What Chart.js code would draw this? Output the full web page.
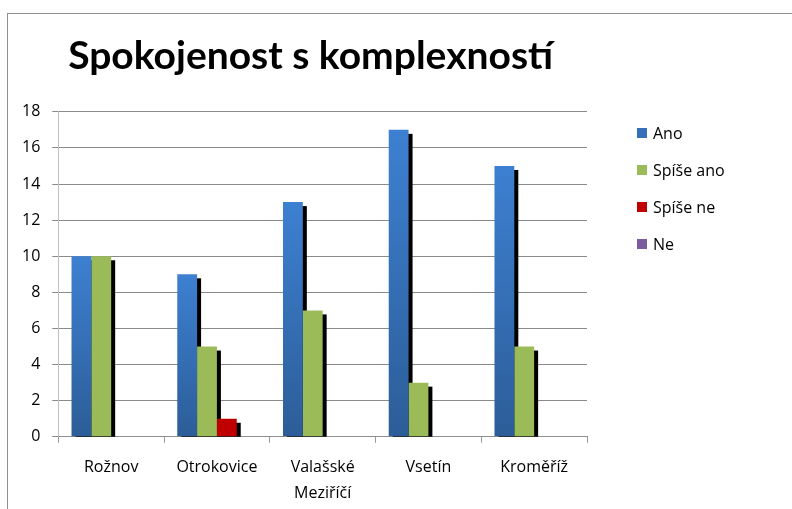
<!DOCTYPE html>
<html lang="cs">
<head>
<meta charset="UTF-8">
<title>Spokojenost s komplexností</title>
<script src="https://cdn.jsdelivr.net/npm/chart.js@4.4.0/dist/chart.umd.min.js"></script>
<style>
    body { margin: 0; background: #fff; }
    .wrap { position: relative; width: 792px; height: 509px; }
    .frame {
        position: absolute; left: 7px; top: 13px; width: 800px; height: 520px;
        border-left: 1px solid #8f8f8f; border-top: 1px solid #8f8f8f;
        pointer-events: none;
    }
</style>
</head>
<body>
<div class="wrap">
    <canvas id="chart" width="792" height="509"></canvas>
    <div class="frame"></div>
</div>
<script>
    // data
    const cities = ['Rožnov', 'Otrokovice', ['Valašské', 'Meziříčí'], 'Vsetín', 'Kroměříž'];
    const ano = [10, 9, 13, 17, 15];
    const spiseAno = [10, 5, 7, 3, 5];
    const spiseNe = [0, 1, 0, 0, 0];
    const ne = [0, 0, 0, 0, 0];
    const yTicks = { min: 0, max: 18, step: 2 };

    const TITLE_FONT = 'Lato, "Open Sans", sans-serif';
    const FONT = '"Open Sans", Lato, sans-serif';

    // blue bars fade from light at the top to darker at the bottom
    function blueGradient(ctx) {
        const chart = ctx.chart;
        if (!chart.chartArea || ctx.raw === undefined) return '#3a78c4';
        const y = chart.scales.y;
        const top = y.getPixelForValue(ctx.raw);
        const bottom = y.getPixelForValue(0);
        if (bottom - top < 1) return '#3a78c4';
        const g = chart.ctx.createLinearGradient(0, top, 0, bottom);
        g.addColorStop(0, '#3d80d1');
        g.addColorStop(1, '#2c5d98');
        return g;
    }

    // hard black drop shadows, all drawn before the bars so every bar sits on top
    const barShadow = {
        id: 'barShadow',
        beforeDatasetsDraw(chart) {
            const c = chart.ctx;
            const a = chart.chartArea;
            c.save();
            c.beginPath();
            c.rect(a.left, a.top, a.right - a.left, a.bottom - a.top);
            c.clip();
            c.fillStyle = '#000';
            chart.getSortedVisibleDatasetMetas().forEach(function (meta) {
                meta.data.forEach(function (bar) {
                    const p = bar.getProps(['x', 'y', 'base', 'width'], true);
                    const h = Math.abs(p.base - p.y);
                    if (h > 0) c.fillRect(p.x - p.width / 2 + 4, Math.min(p.y, p.base) + 4, p.width, h);
                });
            });
            c.restore();
        }
    };

    // the title in the original sits a little left of the plot centre
    const titleNudge = {
        id: 'titleNudge',
        afterLayout(chart) {
            if (chart.titleBlock) {
                chart.titleBlock.left -= 12;
                chart.titleBlock.right -= 12;
            }
        }
    };

    // legend on the right, drawn by hand so it sits where the original has it
    const sideLegend = {
        id: 'sideLegend',
        afterDraw(chart) {
            const c = chart.ctx;
            const x = 637, y0 = 133, gap = 37;
            c.save();
            c.font = '16px ' + FONT;
            c.textBaseline = 'middle';
            chart.data.datasets.forEach(function (ds, i) {
                const y = y0 + i * gap;
                c.fillStyle = ds.legendColor;
                c.fillRect(x, y - 5, 10, 10);
                c.fillStyle = '#000';
                c.fillText(ds.label, x + 16, y + 1);
            });
            c.restore();
        }
    };

    new Chart(document.getElementById('chart'), {
        type: 'bar',
        data: {
            labels: cities,
            datasets: [
                { label: 'Ano', data: ano, backgroundColor: blueGradient, legendColor: '#3670b8' },
                { label: 'Spíše ano', data: spiseAno, backgroundColor: '#9bbb59', legendColor: '#9bbb59' },
                { label: 'Spíše ne', data: spiseNe, backgroundColor: '#c00000', legendColor: '#c00000' },
                { label: 'Ne', data: ne, backgroundColor: '#8064a2', legendColor: '#7a5c9e' }
            ]
        },
        options: {
            responsive: false,
            animation: false,
            layout: { padding: { left: 10, right: 205, top: 33, bottom: -9 } },
            datasets: {
                bar: { categoryPercentage: 0.75, barPercentage: 1 }
            },
            plugins: {
                legend: { display: false },
                tooltip: { enabled: false },
                title: {
                    display: true,
                    text: 'Spokojenost s komplexností',
                    fullSize: false,
                    color: '#000',
                    font: { family: TITLE_FONT, size: 39, weight: 'bold' },
                    padding: { top: 0, bottom: 32 }
                }
            },
            scales: {
                x: {
                    grid: { display: true, drawOnChartArea: false, color: '#9a9a9a', tickLength: 6, offset: true },
                    border: { color: '#8f8f8f' },
                    ticks: { color: '#000', font: { family: FONT, size: 16, lineHeight: 1.6 }, padding: 12, maxRotation: 0 }
                },
                y: {
                    min: yTicks.min,
                    max: yTicks.max,
                    grid: { color: '#8a8a8a', tickLength: 6 },
                    border: { color: '#c0c0c0' },
                    ticks: { stepSize: yTicks.step, color: '#000', font: { family: FONT, size: 16 }, padding: 12 }
                }
            }
        },
        plugins: [barShadow, titleNudge, sideLegend]
    });
</script>
</body>
</html>
